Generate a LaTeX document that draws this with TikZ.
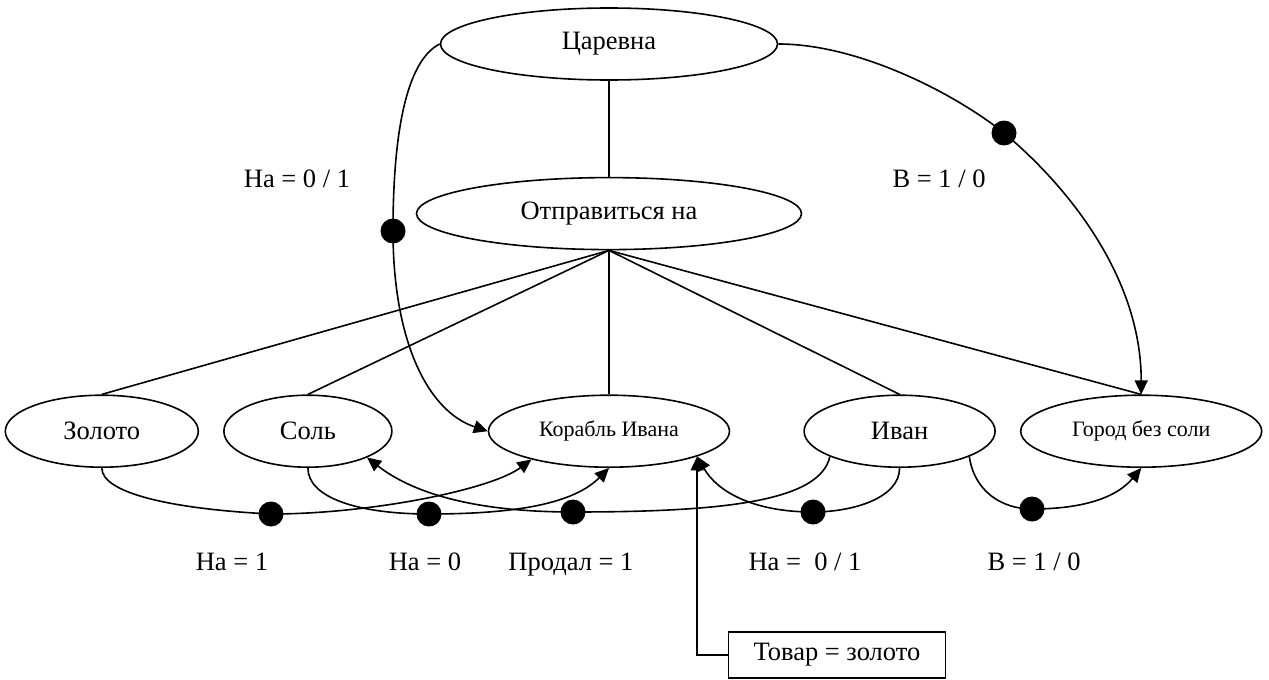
\documentclass[tikz,border=0pt]{standalone}
\usepackage{fontspec}
\setmainfont{Liberation Serif}
\usetikzlibrary{positioning,arrows.meta,shapes.geometric}

\begin{document}
\begin{tikzpicture}[x=1pt,y=-1pt,line width=1.6pt,
    ell/.style={draw,ellipse,inner sep=0pt,minimum height=72pt,font=\fontsize{26.5}{30}\selectfont},
    sml/.style={ell,font=\fontsize{22}{26}\selectfont},
    dot/.style={circle,fill,inner sep=0pt,minimum size=25pt},
    lbl/.style={anchor=base,font=\fontsize{26.5}{30}\selectfont},
    >={Triangle[length=14pt,width=13pt]}]
    \useasboundingbox (0,0) rectangle (1269,680);

    \node (t1) [ell,minimum width=337pt] at (609,44) {Царевна};
    \node (m1) [ell,minimum width=385pt,below=96pt of t1] {Отправиться на};
    \node (b3) [sml,minimum width=241pt,below=144pt of m1] {Корабль Ивана};
    \node (b2) [ell,minimum width=168pt,left=95pt of b3] {Соль};
    \node (b1) [ell,minimum width=193pt,left=24pt of b2] {Золото};
    \node (b4) [ell,minimum width=191pt,right=73pt of b3] {Иван};
    \node (b5) [sml,minimum width=241pt,right=24pt of b4] {Город без соли};
    \node (box) [draw,inner sep=0pt,minimum width=217pt,minimum height=46pt,font=\fontsize{26.5}{30}\selectfont] at (837,655) {Товар = золото};

    \node (d1) [dot] at (393,231) {};
    \node (d2) [dot] at (1004,133) {};
    \node (d3) [dot] at (271,514) {};
    \node (d4) [dot] at (429,514) {};
    \node (d5) [dot] at (573,512) {};
    \node (d6) [dot] at (813,512) {};
    \node (d7) [dot] at (1032,509) {};

    \node (l1) [lbl] at (297,187) {На = 0 / 1};
    \node (l2) [lbl] at (939,187) {В = 1 / 0};
    \node (l3) [lbl] at (232,570) {На = 1};
    \node (l4) [lbl] at (425,570) {На = 0};
    \node (l5) [lbl] at (571,570) {Продал = 1};
    \node (l6) [lbl] at (805,570) {На = \ 0 / 1};
    \node (l7) [lbl] at (1034,570) {В = 1 / 0};

    \draw (t1) -- (m1);
    \foreach \b in {b1,b2,b3,b4,b5}
        \draw (m1.south) -- (\b.north);

    \draw[->] (t1.west) .. controls +(-30,15) and +(0,-110) .. (d1.center)
        .. controls +(0,110) and +(-60,-20) .. (b3.west);
    \draw[->] (t1.east) .. controls +(80,0) and +(-50,-40) .. (d2.center)
        .. controls +(60,50) and +(0,-120) .. (b5.north);
    \draw[->] (b1.south) .. controls +(0,25) and +(-100,-5) .. (d3.center)
        .. controls +(100,0) and +(-40,30) .. (b3.200);
    \draw[->] (b2.south) .. controls +(0,30) and +(-70,0) .. (d4.center)
        .. controls +(90,0) and +(-35,35) .. (b3.south);
    \draw[->] (b4.200) .. controls +(-10,45) and +(150,0) .. (d5.center)
        .. controls +(-100,0) and +(45,35) .. (b2.-24);
    \draw[->] (b4.south) .. controls +(0,30) and +(40,0) .. (d6.center)
        .. controls +(-60,0) and +(20,35) .. (b3.-16);
    \draw[->] (b4.-20) .. controls +(5,35) and +(-30,0) .. (d7.center)
        .. controls +(50,0) and +(-25,30) .. (b5.south);
    \draw[->] (box.west) -| (b3.-16);
\end{tikzpicture}
\end{document}
